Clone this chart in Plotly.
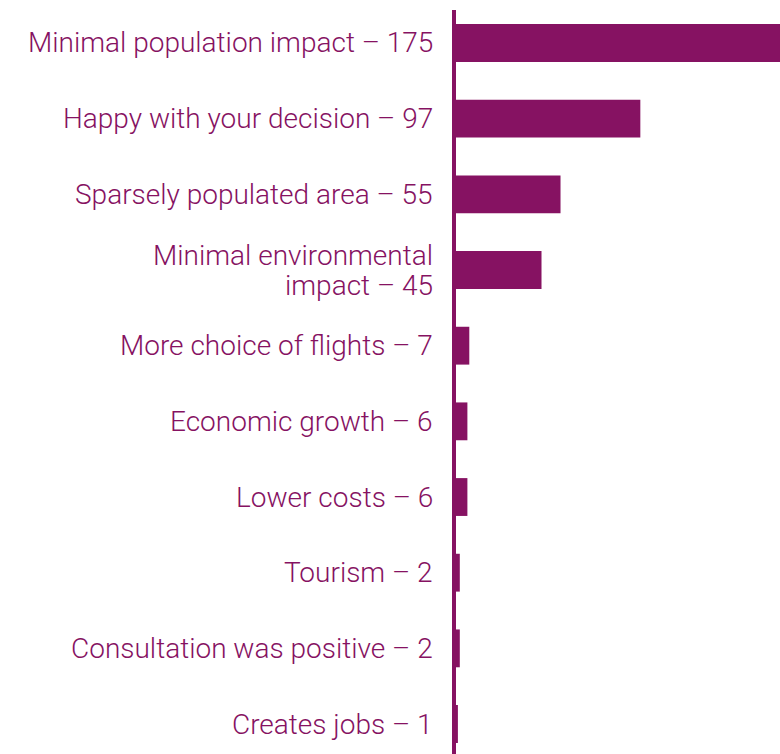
import plotly.graph_objects as go

categories = [
    "Minimal population impact – 175",
    "Happy with your decision – 97",
    "Sparsely populated area – 55",
    "Minimal environmental<br>impact – 45",
    "More choice of flights – 7",
    "Economic growth – 6",
    "Lower costs – 6",
    "Tourism – 2",
    "Consultation was positive – 2",
    "Creates jobs – 1",
]
values = [175, 97, 55, 45, 7, 6, 6, 2, 2, 1]

PURPLE = "#861262"
LABEL_FONT = dict(family="Roboto", size=28, color=PURPLE, weight=300)
LINE_GAP = 30

fig = go.Figure(go.Bar(
    x=values,
    y=categories,
    orientation="h",
    marker=dict(color=PURPLE, line=dict(width=0)),
    width=0.5,
    hoverinfo="skip",
))

# category labels, right-aligned left of the axis line
for cat in categories:
    lines = cat.split("<br>")
    n = len(lines)
    for i, line in enumerate(lines):
        shift = ((n - 1) / 2 - i) * LINE_GAP
        fig.add_annotation(
            x=0, xref="paper", xanchor="right", xshift=-21,
            y=cat, yref="y", yanchor="middle", yshift=shift,
            text=line, showarrow=False, align="right",
            font=LABEL_FONT,
        )

fig.update_layout(
    width=780,
    height=754,
    margin=dict(l=456, r=0, t=10, b=0),
    paper_bgcolor="white",
    plot_bgcolor="white",
    showlegend=False,
    font=LABEL_FONT,
    hovermode=False,
)
fig.update_xaxes(
    range=[0, 170.5],
    visible=False,
    fixedrange=True,
)
fig.update_yaxes(
    type="category",
    range=[9.396, -0.436],
    showline=True,
    linecolor=PURPLE,
    linewidth=4,
    showgrid=False,
    zeroline=False,
    ticks="",
    showticklabels=False,
    fixedrange=True,
)

fig.write_html(
    "out.html",
    config={"displayModeBar": False, "staticPlot": True},
    post_script="document.body.style.margin='0';document.body.style.overflow='hidden';",
)
